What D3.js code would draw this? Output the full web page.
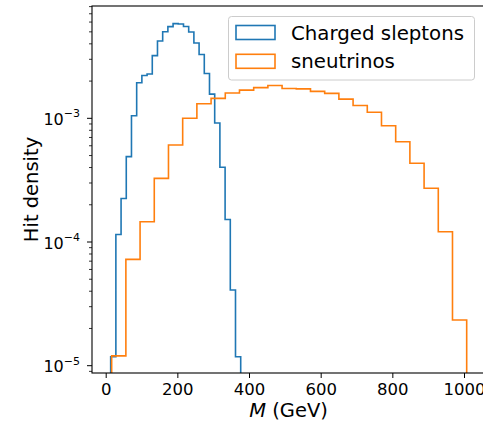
<!DOCTYPE html>
<html>
<head>
<meta charset="utf-8">
<script src="https://cdn.jsdelivr.net/npm/d3@7"></script>
<style>
  html, body { margin: 0; padding: 0; background: #fff; }
  svg { display: block; font-family: "DejaVu Sans", sans-serif; }
</style>
</head>
<body>
<svg id="chart" width="483" height="423"></svg>
<script>
// ---- data ----
const seriesNames = ["Charged sleptons", "sneutrinos"];
const seriesColors = ["#1f77b4", "#ff7f0e"];
// bin range (GeV) of each histogram, 25 equal bins
const sleptonRange = [13.9, 376.8];
const sneutrinoRange = [16.7, 1007.5];
const sleptonDensity = [1.18e-5, 1.15e-4, 2.25e-4, 4.9e-4, 1.05e-3, 1.94e-3, 2.22e-3, 2.28e-3,
  3.21e-3, 4.22e-3, 5.01e-3, 5.51e-3, 5.83e-3, 5.78e-3, 5.52e-3, 4.99e-3, 4.06e-3, 3.28e-3,
  2.30e-3, 1.57e-3, 9.16e-4, 4.02e-4, 1.52e-4, 4.09e-5, 1.18e-5];
const sneutrinoDensity = [1.20e-5, 7.24e-5, 1.46e-4, 3.27e-4, 6.08e-4, 1.0e-3, 1.31e-3, 1.45e-3,
  1.60e-3, 1.69e-3, 1.77e-3, 1.84e-3, 1.74e-3, 1.73e-3, 1.65e-3, 1.59e-3, 1.43e-3, 1.27e-3,
  1.12e-3, 8.71e-4, 6.47e-4, 4.33e-4, 2.72e-4, 1.21e-4, 2.34e-5];
const xTicks = [0, 200, 400, 600, 800, 1000];
const yTickExps = [-5, -4, -3];
const xDomain = [-38.2, 1058.6];
const yDomain = [Math.pow(10, -5.059), Math.pow(10, -2.092)];

// ---- layout ----
const L = 92, R = 485, T = 6, B = 373;
const svg = d3.select("#chart");
const x = d3.scaleLinear().domain(xDomain).range([L, R]);
const y = d3.scaleLog().domain(yDomain).range([B, T]);

svg.append("defs").append("clipPath").attr("id", "clip")
  .append("rect").attr("x", L).attr("y", T).attr("width", R - L).attr("height", B - T);

function stepPath(range, vals) {
  const n = vals.length, w = (range[1] - range[0]) / n;
  const pts = [[x(range[0]), B + 5]];
  vals.forEach((v, i) => {
    pts.push([x(range[0] + i * w), y(v)]);
    pts.push([x(range[0] + (i + 1) * w), y(v)]);
  });
  pts.push([x(range[1]), B + 5]);
  return d3.line()(pts);
}

const g = svg.append("g").attr("clip-path", "url(#clip)");
[[sleptonRange, sleptonDensity], [sneutrinoRange, sneutrinoDensity]].forEach((s, i) => {
  g.append("path").attr("d", stepPath(s[0], s[1]))
    .attr("fill", "none").attr("stroke", seriesColors[i]).attr("stroke-width", 1.6)
    .attr("stroke-linejoin", "miter");
});

// ---- axes ----
const xAxis = d3.axisBottom(x).tickValues(xTicks).tickSize(5).tickPadding(5).tickFormat(d3.format("d"));
const gx = svg.append("g").attr("transform", `translate(0,${B})`).call(xAxis);
gx.select(".domain").remove();
gx.selectAll("text").attr("font-size", 16.5).attr("fill", "#000").attr("font-family", "DejaVu Sans");
gx.selectAll("line").attr("stroke", "#000");

// y major ticks
const gy = svg.append("g");
yTickExps.forEach(e => {
  const yy = y(Math.pow(10, e));
  gy.append("line").attr("x1", L - 5).attr("x2", L).attr("y1", yy).attr("y2", yy).attr("stroke", "#000");
  const t = gy.append("text").attr("x", L - 12).attr("y", yy + 6.5).attr("text-anchor", "end")
    .attr("font-size", 16).attr("fill", "#000");
  t.append("tspan").text("10");
  t.append("tspan").attr("font-size", 11).attr("dy", -7.5).text("\u2212" + Math.abs(e));
});
// y minor ticks
for (let e = -6; e <= -2; e++) {
  for (let k = 2; k <= 9; k++) {
    const v = k * Math.pow(10, e);
    if (v < yDomain[0] || v > yDomain[1]) continue;
    const yy = y(v);
    gy.append("line").attr("x1", L - 3).attr("x2", L).attr("y1", yy).attr("y2", yy)
      .attr("stroke", "#000").attr("stroke-width", 0.8);
  }
}

// spines
svg.append("rect").attr("x", L).attr("y", T).attr("width", R - L).attr("height", B - T)
  .attr("fill", "none").attr("stroke", "#000").attr("stroke-width", 1.1);

// axis labels
const xl = svg.append("text").attr("x", (L + R) / 2).attr("y", 417).attr("text-anchor", "middle")
  .attr("font-size", 19.5).attr("fill", "#000");
xl.append("tspan").attr("font-style", "italic").text("M");
xl.append("tspan").text(" (GeV)");

svg.append("text").attr("transform", `translate(38,${(T + B) / 2}) rotate(-90)`)
  .attr("text-anchor", "middle").attr("font-size", 19.5).attr("fill", "#000").text("Hit density");

// ---- legend ----
const lg = svg.append("g");
lg.append("rect").attr("x", 228.5).attr("y", 16.5).attr("width", 246).attr("height", 63.5)
  .attr("rx", 3).attr("fill", "#fff").attr("fill-opacity", 0.8)
  .attr("stroke", "#cccccc").attr("stroke-width", 1);
const rowY = [32.5, 61.3];
seriesNames.forEach((name, i) => {
  lg.append("rect").attr("x", 236).attr("y", rowY[i] - 7).attr("width", 39).attr("height", 14)
    .attr("fill", "none").attr("stroke", seriesColors[i]).attr("stroke-width", 1.6);
  lg.append("text").attr("x", 291).attr("y", rowY[i] + 7).attr("font-size", 19.8).attr("fill", "#000").text(name);
});
</script>
</body>
</html>
